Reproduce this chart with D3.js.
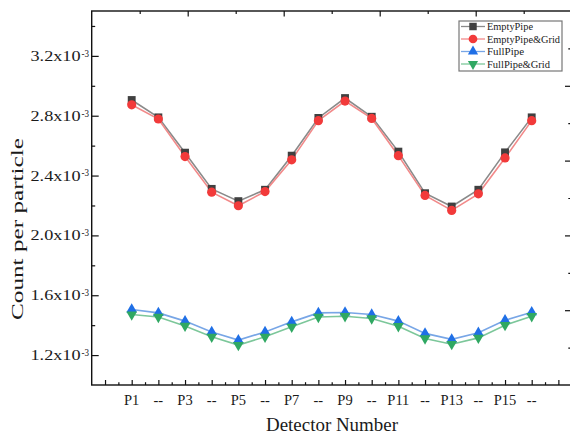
<!DOCTYPE html>
<html>
<head>
<meta charset="utf-8">
<script src="https://cdn.jsdelivr.net/npm/d3@7"></script>
<style>
  body { margin: 0; background: #fff; }
  svg { display: block; }
  text { font-family: "Liberation Serif", "Times New Roman", serif; fill: #1a1a1a; }
</style>
</head>
<body>
<div id="container"></div>
<script>
// Data (values in units of 1e-3)
var detectors = ["P1", "--", "P3", "--", "P5", "--", "P7", "--", "P9", "--", "P11", "--", "P13", "--", "P15", "--"];
var emptyPipe = [2.905, 2.789, 2.553, 2.311, 2.229, 2.305, 2.533, 2.785, 2.918, 2.793, 2.560, 2.282, 2.193, 2.305, 2.555, 2.789];
var emptyPipeGrid = [2.873, 2.778, 2.527, 2.289, 2.198, 2.293, 2.505, 2.767, 2.898, 2.782, 2.533, 2.267, 2.167, 2.278, 2.518, 2.767];
var fullPipe = [1.505, 1.482, 1.427, 1.355, 1.300, 1.355, 1.422, 1.482, 1.485, 1.471, 1.427, 1.345, 1.305, 1.349, 1.433, 1.487];
var fullPipeGrid = [1.471, 1.455, 1.395, 1.322, 1.267, 1.322, 1.389, 1.455, 1.460, 1.445, 1.393, 1.311, 1.273, 1.315, 1.400, 1.460];
var yTicks = [1.2, 1.6, 2.0, 2.4, 2.8, 3.2];
var yTickLabels = ["1.2x10", "1.6x10", "2.0x10", "2.4x10", "2.8x10", "3.2x10"];

var series = [
    {name: "EmptyPipe", values: emptyPipe, fill: "#404040", line: "#8a8a8a", shape: d3.symbolSquare, size: 62, rot: 0, tl: 46},
    {name: "EmptyPipe&Grid", values: emptyPipeGrid, fill: "#f23a3a", line: "#f28a8a", shape: d3.symbolCircle, size: 66, rot: 0, tl: 73},
    {name: "FullPipe", values: fullPipe, fill: "#1f6fe6", line: "#78a6e6", shape: d3.symbolTriangle, size: 50, rot: 0, tl: 37},
    {name: "FullPipe&Grid", values: fullPipeGrid, fill: "#2fa862", line: "#7cc79a", shape: d3.symbolTriangle, size: 50, rot: 180, tl: 63}
];

var W = 570, H = 434,
    margin = {top: 11, left: 91.7, bottom: 49},
    w = 480, h = H - margin.top - margin.bottom;

var svg = d3.select("#container").append("svg")
    .attr("width", W)
    .attr("height", H);

var g = svg.append("g")
    .attr("transform", "translate(" + margin.left + "," + margin.top + ")");

var x = d3.scaleLinear().domain([-0.5, 17.5]).range([0, w]);
var y = d3.scaleLinear().domain([1.0, 3.5]).range([h, 0]);
var xTop = d3.scaleLinear().domain([0, 5]).range([0, w]);
var yRight = d3.scaleLinear().domain([0, 10]).range([h, 0]);

// ticks (all inward)
function tickAxis(axis, vals, len, tr) {
    var a = g.append("g")
        .attr("transform", tr || null)
        .call(axis.tickValues(vals).tickSizeInner(-len).tickSizeOuter(0).tickFormat(""));
    a.select(".domain").remove();
    a.selectAll("line").attr("stroke", "#111").attr("stroke-width", 1.2);
}
tickAxis(d3.axisBottom(x), d3.range(0, 18), 5, "translate(0," + h + ")");
tickAxis(d3.axisBottom(x), d3.range(0.5, 17.5, 1), 2.8, "translate(0," + h + ")");
tickAxis(d3.axisLeft(y), yTicks, 7);
tickAxis(d3.axisLeft(y), [1.4, 1.8, 2.2, 2.6, 3.0, 3.4], 3.5);
tickAxis(d3.axisTop(xTop), d3.range(1, 5), 5.5);
tickAxis(d3.axisTop(xTop), d3.range(0.5, 5, 1), 3);
tickAxis(d3.axisRight(yRight), [2, 4, 6, 8], 6.7, "translate(" + w + ",0)");
tickAxis(d3.axisRight(yRight), [1, 3, 5, 7, 9], 3.4, "translate(" + w + ",0)");

// frame
g.append("rect")
    .attr("x", 0).attr("y", 0)
    .attr("width", w).attr("height", h)
    .attr("fill", "none")
    .attr("stroke", "#111")
    .attr("stroke-width", 1.4);

// y tick labels with superscript
yTicks.forEach(function(v, i) {
    g.append("text")
        .attr("x", 81.5 - margin.left - 1)
        .attr("y", y(v) + 5)
        .attr("text-anchor", "end")
        .attr("font-size", 14.5)
        .attr("textLength", 50)
        .attr("lengthAdjust", "spacingAndGlyphs")
        .text(yTickLabels[i]);
    g.append("text")
        .attr("x", 81.5 - margin.left)
        .attr("y", y(v) + 0.8)
        .attr("font-size", 9.5)
        .attr("textLength", 7.5)
        .attr("lengthAdjust", "spacingAndGlyphs")
        .text("-3");
});

// x tick labels
g.selectAll(".xlab")
    .data(detectors)
    .enter()
    .append("text")
        .attr("class", "xlab")
        .attr("x", function(d, i) { return x(i + 1); })
        .attr("y", h + 20)
        .attr("text-anchor", "middle")
        .attr("font-size", 14.5)
        .text(function(d) { return d; });

// axis titles
svg.append("text")
    .attr("x", 332)
    .attr("y", 431)
    .attr("text-anchor", "middle")
    .attr("font-size", 18)
    .attr("textLength", 132)
    .attr("lengthAdjust", "spacingAndGlyphs")
    .text("Detector Number");

svg.append("text")
    .attr("transform", "translate(23,229) rotate(-90)")
    .attr("text-anchor", "middle")
    .attr("font-size", 17.5)
    .attr("textLength", 182)
    .attr("lengthAdjust", "spacingAndGlyphs")
    .text("Count per particle");

// lines and markers
var line = d3.line()
    .x(function(d, i) { return x(i + 1); })
    .y(function(d) { return y(d); });

series.forEach(function(s) {
    g.append("path")
        .datum(s.values)
        .attr("d", line)
        .attr("fill", "none")
        .attr("stroke", s.line)
        .attr("stroke-width", 1.6);
});

series.forEach(function(s) {
    var sym = d3.symbol().type(s.shape).size(s.size);
    g.selectAll(null)
        .data(s.values)
        .enter()
        .append("path")
            .attr("d", sym)
            .attr("transform", function(d, i) {
                return "translate(" + x(i + 1) + "," + y(d) + ") rotate(" + s.rot + ")";
            })
            .attr("fill", s.fill);
});

// legend
var legend = svg.append("g").attr("transform", "translate(459,21)");
legend.append("rect")
    .attr("width", 103).attr("height", 50)
    .attr("fill", "#fff")
    .attr("stroke", "#777")
    .attr("stroke-width", 1.2);
series.forEach(function(s, i) {
    var ly = 5.5 + i * 12.5;
    legend.append("line")
        .attr("x1", 2).attr("x2", 26)
        .attr("y1", ly).attr("y2", ly)
        .attr("stroke", s.line)
        .attr("stroke-width", 1.3);
    legend.append("path")
        .attr("d", d3.symbol().type(s.shape).size(s.size * 0.9))
        .attr("transform", "translate(14," + ly + ") rotate(" + s.rot + ")")
        .attr("fill", s.fill);
    legend.append("text")
        .attr("x", 28)
        .attr("y", ly + 3.6)
        .attr("font-size", 10.5)
        .attr("textLength", s.tl)
        .attr("lengthAdjust", "spacingAndGlyphs")
        .text(s.name);
});
</script>
</body>
</html>
